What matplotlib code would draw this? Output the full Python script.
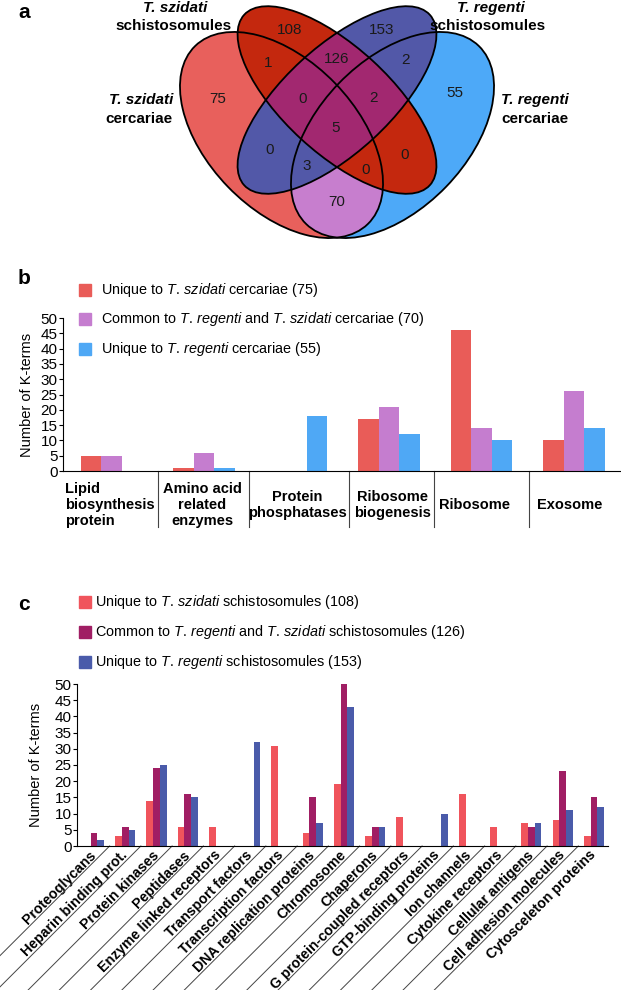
import matplotlib
matplotlib.use("Agg")
import numpy as np
import matplotlib.pyplot as plt
from matplotlib.patches import Ellipse, Rectangle
from matplotlib import transforms

plt.rcParams['font.family'] = ['Liberation Sans', 'DejaVu Sans']
plt.rcParams['mathtext.fontset'] = 'custom'
plt.rcParams['mathtext.rm'] = 'Liberation Sans'
plt.rcParams['mathtext.it'] = 'Liberation Sans:italic'
plt.rcParams['mathtext.bf'] = 'Liberation Sans:bold'

# ---- data ----
# panel a: region -> count (A=Tsz cercariae, B=Tsz schisto, C=Treg schisto, D=Treg cercariae)
venn_regions = ['A', 'B', 'C', 'D', 'AB', 'AC', 'AD', 'BD', 'BC', 'CD',
                'ABC', 'ABD', 'ACD', 'BCD', 'ABCD']
venn_counts = [75, 108, 153, 55, 1, 0, 70, 0, 126, 2, 0, 0, 3, 2, 5]

# panel b
b_categories = ['Lipid\nbiosynthesis\nprotein', 'Amino acid\nrelated\nenzymes',
                'Protein\nphosphatases', 'Ribosome\nbiogenesis', 'Ribosome', 'Exosome']
b_szidati = [5, 1, 0, 17, 46, 10]
b_common = [5, 6, 0, 21, 14, 26]
b_regenti = [0, 1, 18, 12, 10, 14]
b_labels = [r'Unique to $\mathit{T.\,szidati}$ cercariae (75)',
            r'Common to $\mathit{T.\,regenti}$ and $\mathit{T.\,szidati}$ cercariae (70)',
            r'Unique to $\mathit{T.\,regenti}$ cercariae (55)']

# panel c
c_categories = ['Proteoglycans', 'Heparin binding prot.', 'Protein kinases', 'Peptidases',
                'Enzyme linked receptors', 'Transport factors', 'Transcription factors',
                'DNA replication proteins', 'Chromosome', 'Chaperons',
                'G protein-coupled receptors', 'GTP-binding proteins', 'Ion channels',
                'Cytokine receptors', 'Cellular antigens', 'Cell adhesion molecules',
                'Cytosceleton proteins']
c_szidati = [0, 3, 14, 6, 6, 0, 31, 4, 19, 3, 9, 0, 16, 6, 7, 8, 3]
c_common = [4, 6, 24, 16, 0, 0, 0, 15, 50, 6, 0, 0, 0, 0, 6, 23, 15]
c_regenti = [2, 5, 25, 15, 0, 32, 0, 7, 43, 6, 0, 10, 0, 0, 7, 11, 12]
c_labels = [r'Unique to $\mathit{T.\,szidati}$ schistosomules (108)',
            r'Common to $\mathit{T.\,regenti}$ and $\mathit{T.\,szidati}$ schistosomules (126)',
            r'Unique to $\mathit{T.\,regenti}$ schistosomules (153)']

# ---- layout / style ----
W, H = 621, 990
fig = plt.figure(figsize=(W / 100, H / 100), dpi=100)

def fx(px):
    return px / W

def fy(py):
    return 1 - py / H

# venn ellipses: (cx, cy, a, b, angle) in pixel coords of the venn axes
ell_A = (281.5, 135, 124, 74.5, 45.9)
ell_D = (392.5, 135, 124, 74.5, -45.9)
ell_B = (337, 100, 126, 53, 42.6)
ell_C = (337, 100, 126, 53, -42.6)
venn_pos = {'A': (218, 99), 'B': (290, 30), 'C': (382, 30), 'D': (455, 93),
            'AB': (268, 63), 'AC': (270, 150), 'AD': (337, 202), 'BD': (405, 155),
            'BC': (337, 59), 'CD': (405, 60), 'ABC': (303, 99), 'ABD': (366, 170),
            'ACD': (307, 166), 'BCD': (373, 98), 'ABCD': (336, 128)}

col_A, col_D, col_AD = '#E8605C', '#4DA9F8', '#C77ECE'
col_B, col_C, col_BC = '#C4280E', '#5258A8', '#A22870'

ax_a = fig.add_axes([0, fy(300), 1, 300 / H])
ax_a.set_xlim(0, W)
ax_a.set_ylim(300, 0)
ax_a.axis('off')

def ell(p, **kw):
    e = Ellipse((p[0], p[1]), 2 * p[2], 2 * p[3], angle=p[4], **kw)
    ax_a.add_patch(e)
    return e

eA = ell(ell_A, facecolor=col_A, edgecolor='none')
ell(ell_D, facecolor=col_D, edgecolor='none')
ell(ell_D, facecolor=col_AD, edgecolor='none').set_clip_path(eA)
eB = ell(ell_B, facecolor=col_B, edgecolor='none')
ell(ell_C, facecolor=col_C, edgecolor='none')
ell(ell_C, facecolor=col_BC, edgecolor='none').set_clip_path(eB)
for p in (ell_A, ell_B, ell_C, ell_D):
    ell(p, facecolor='none', edgecolor='black', lw=1.3)

for reg, n in zip(venn_regions, venn_counts):
    x, y = venn_pos[reg]
    ax_a.text(x, y, str(n), ha='center', va='center', fontsize=11, color='#1a1a1a')

set_kw = dict(fontsize=11, fontweight='bold', va='center')
ax_a.text(175, 8, 'T. szidati', ha='center', style='italic', **set_kw)
ax_a.text(174, 26, 'schistosomules', ha='center', **set_kw)
ax_a.text(491, 8, 'T. regenti', ha='center', style='italic', **set_kw)
ax_a.text(487, 26, 'schistosomules', ha='center', **set_kw)
ax_a.text(173, 100, 'T. szidati', ha='right', style='italic', **set_kw)
ax_a.text(173, 119, 'cercariae', ha='right', **set_kw)
ax_a.text(501, 100, 'T. regenti', ha='left', style='italic', **set_kw)
ax_a.text(501, 119, 'cercariae', ha='left', **set_kw)

# panel letters
for lab, py in (('a', 13), ('b', 278), ('c', 605)):
    fig.text(fx(18), fy(py), lab, fontsize=15, fontweight='bold', va='center')

# ---- panel b ----
b_cols = ['#E95C58', '#C57DCF', '#4FA8F5']
ax_b = fig.add_axes([fx(63), fy(471), fx(621 - 63), (471 - 318) / H])
xb = np.arange(len(b_categories))
wb = 0.222
for i, (vals, c) in enumerate(zip([b_szidati, b_common, b_regenti], b_cols)):
    ax_b.bar(xb + (i - 1) * wb, vals, wb, color=c)
ax_b.set_xlim(-0.527, 5.51)
ax_b.set_ylim(0, 50)
ax_b.set_yticks(range(0, 51, 5))
ax_b.set_xticks([])
ax_b.spines['top'].set_visible(False)
ax_b.spines['right'].set_visible(False)
ax_b.tick_params(axis='y', labelsize=11, length=3, pad=1)
ax_b.set_ylabel('Number of K-terms', fontsize=10.5)
ax_b.yaxis.set_label_coords(-0.052, 0.5)

b_sep = [0.502, 1.487, 2.57, 3.49, 4.52]
b_lab_x = [-0.506, 0.977, 2.005, 3.033, 3.92, 4.95]
b_lab_ha = ['left', 'center', 'center', 'center', 'center', 'center']
xt = ax_b.get_xaxis_transform()
for s in b_sep:
    ax_b.plot([s, s], [0, -0.366], transform=xt, clip_on=False, color='#444444', lw=0.8)
for lab, x, ha in zip(b_categories, b_lab_x, b_lab_ha):
    ax_b.text(x, -0.222, lab, transform=xt, ha=ha, va='center', multialignment=ha,
              fontsize=10.5, fontweight='bold', linespacing=1.15)

for py, lab, c in zip((290, 319, 349), b_labels, b_cols):
    fig.patches.append(Rectangle((fx(79), fy(py + 6)), 12 / W, 12 / H,
                                 transform=fig.transFigure, color=c))
    fig.text(fx(101), fy(py), lab, fontsize=10.4, va='center')

# ---- panel c ----
c_cols = ['#F0545C', '#A01E64', '#4A5BAA']
ax_c = fig.add_axes([fx(77), fy(846), fx(608 - 77), (846 - 684) / H])
xc = np.arange(len(c_categories))
wc = 0.214
for i, (vals, c) in enumerate(zip([c_szidati, c_common, c_regenti], c_cols)):
    ax_c.bar(xc + (i - 1) * wc, vals, wc, color=c)
ax_c.set_xlim(-0.544, 16.45)
ax_c.set_ylim(0, 50)
ax_c.set_yticks(range(0, 51, 5))
ax_c.spines['top'].set_visible(False)
ax_c.spines['right'].set_visible(False)
ax_c.tick_params(axis='y', labelsize=11, length=3, pad=1)
ax_c.set_ylabel('Number of K-terms', fontsize=10.5)
ax_c.yaxis.set_label_coords(-0.064, 0.5)
ax_c.set_xticks(xc)
ax_c.set_xticklabels(c_categories, rotation=45, ha='right', va='center',
                     rotation_mode='anchor', fontsize=10.2, fontweight='bold')
ax_c.tick_params(axis='x', length=0, pad=5)

for k in range(len(c_categories) - 1):
    tr = fig.dpi_scale_trans + transforms.ScaledTranslation(k + 0.5, 0, ax_c.transData)
    ax_c.plot([0, -1.8], [0, -1.8], transform=tr, clip_on=False, color='#444444', lw=0.7)

for py, lab, c in zip((602, 632, 662), c_labels, c_cols):
    fig.patches.append(Rectangle((fx(79), fy(py + 6)), 12 / W, 12 / H,
                                 transform=fig.transFigure, color=c))
    fig.text(fx(95), fy(py), lab, fontsize=10.4, va='center')

fig.savefig('out.png', dpi=100)
